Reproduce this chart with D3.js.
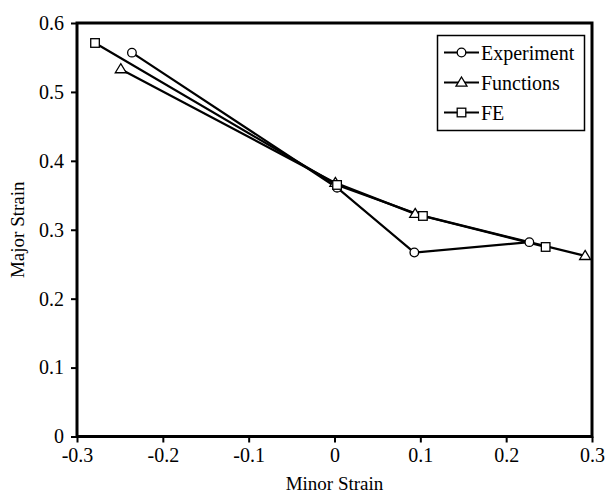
<!DOCTYPE html>
<html>
<head>
<meta charset="utf-8">
<script src="https://cdn.jsdelivr.net/npm/d3@7"></script>
<style>
  body { margin: 0; background: #fff; }
</style>
</head>
<body>
<svg id="chart" width="605" height="496"></svg>
<script>
// data
const seriesNames = ['Experiment', 'Functions', 'FE'];
const experimentMinor = [-0.236, 0.003, 0.093, 0.227];
const experimentMajor = [0.557, 0.361, 0.267, 0.282];
const functionsMinor = [-0.249, 0.001, 0.094, 0.292];
const functionsMajor = [0.533, 0.368, 0.323, 0.262];
const feMinor = [-0.279, 0.003, 0.103, 0.246];
const feMajor = [0.571, 0.365, 0.320, 0.275];
const xTicks = [-0.3, -0.2, -0.1, 0, 0.1, 0.2, 0.3];
const yTicks = [0, 0.1, 0.2, 0.3, 0.4, 0.5, 0.6];

const series = [
  { name: seriesNames[0], marker: 'circle', pts: experimentMinor.map((x, i) => [x, experimentMajor[i]]) },
  { name: seriesNames[1], marker: 'triangle', pts: functionsMinor.map((x, i) => [x, functionsMajor[i]]) },
  { name: seriesNames[2], marker: 'square', pts: feMinor.map((x, i) => [x, feMajor[i]]) }
];

const FONT = "'Liberation Serif'";
const svg = d3.select('#chart');
const margin = { left: 77, right: 13, top: 23, bottom: 59.5 };
const width = 605, height = 496;

const x = d3.scaleLinear().domain([-0.3, 0.3]).range([margin.left, width - margin.right]);
const y = d3.scaleLinear().domain([0, 0.6]).range([height - margin.bottom, margin.top]);

const fmt = d => d === 0 ? '0' : d3.format('.1f')(d).replace('\u2212', '-');

// axes
const xAxis = svg.append('g')
  .attr('transform', `translate(0,${y(0)})`)
  .call(d3.axisBottom(x).tickValues(xTicks).tickSize(6).tickPadding(5).tickFormat(fmt));
const yAxis = svg.append('g')
  .attr('transform', `translate(${x(-0.3)},0)`)
  .call(d3.axisLeft(y).tickValues(yTicks).tickSize(6).tickPadding(7).tickFormat(fmt));

[xAxis, yAxis].forEach(a => {
  a.select('.domain').remove();
  a.selectAll('.tick line').attr('stroke', '#000').attr('stroke-width', 2);
  a.selectAll('.tick text').attr('font-size', 20).style('font-family', FONT).attr('fill', '#000');
});

// frame
svg.append('rect')
  .attr('x', x(-0.3)).attr('y', y(0.6))
  .attr('width', x(0.3) - x(-0.3)).attr('height', y(0) - y(0.6))
  .attr('fill', 'none').attr('stroke', '#000').attr('stroke-width', 3);

// axis titles
svg.append('text')
  .attr('x', x(0)).attr('y', 490)
  .attr('text-anchor', 'middle').attr('font-size', 19).style('font-family', FONT)
  .text('Minor Strain');
svg.append('text')
  .attr('transform', `translate(24,${y(0.3)}) rotate(-90)`)
  .attr('text-anchor', 'middle').attr('font-size', 19).style('font-family', FONT)
  .text('Major Strain');

const line = d3.line().x(d => x(d[0])).y(d => y(d[1]));

function drawMarker(g, type, cx, cy) {
  if (type === 'circle') {
    g.append('circle').attr('cx', cx).attr('cy', cy).attr('r', 4.3)
      .attr('fill', '#fff').attr('stroke', '#000').attr('stroke-width', 1.3);
  } else if (type === 'triangle') {
    const s = 5.5;
    g.append('path')
      .attr('d', `M${cx},${cy - s}L${cx + s},${cy + s * 0.65}L${cx - s},${cy + s * 0.65}Z`)
      .attr('fill', '#fff').attr('stroke', '#000').attr('stroke-width', 1.3);
  } else {
    g.append('rect').attr('x', cx - 4.3).attr('y', cy - 4.3).attr('width', 8.6).attr('height', 8.6)
      .attr('fill', '#fff').attr('stroke', '#000').attr('stroke-width', 1.3);
  }
}

const plot = svg.append('g');
series.forEach(s => {
  plot.append('path')
    .attr('d', line(s.pts))
    .attr('fill', 'none').attr('stroke', '#000').attr('stroke-width', 2.2);
});
series.forEach(s => {
  s.pts.forEach(p => drawMarker(plot, s.marker, x(p[0]), y(p[1])));
});

// legend
const legend = svg.append('g');
legend.append('rect')
  .attr('x', 437.5).attr('y', 35.5).attr('width', 147).attr('height', 95)
  .attr('fill', '#fff').attr('stroke', '#000').attr('stroke-width', 1.5);
const rowY = [52.5, 82.5, 112.5];
series.forEach((s, i) => {
  const ly = rowY[i];
  legend.append('line').attr('x1', 444).attr('x2', 479).attr('y1', ly).attr('y2', ly)
    .attr('stroke', '#000').attr('stroke-width', 2.2);
  drawMarker(legend, s.marker, 461.5, ly);
  legend.append('text').attr('x', 481).attr('y', ly).attr('dy', '0.35em')
    .attr('font-size', 20).style('font-family', FONT).text(s.name);
});
</script>
</body>
</html>
